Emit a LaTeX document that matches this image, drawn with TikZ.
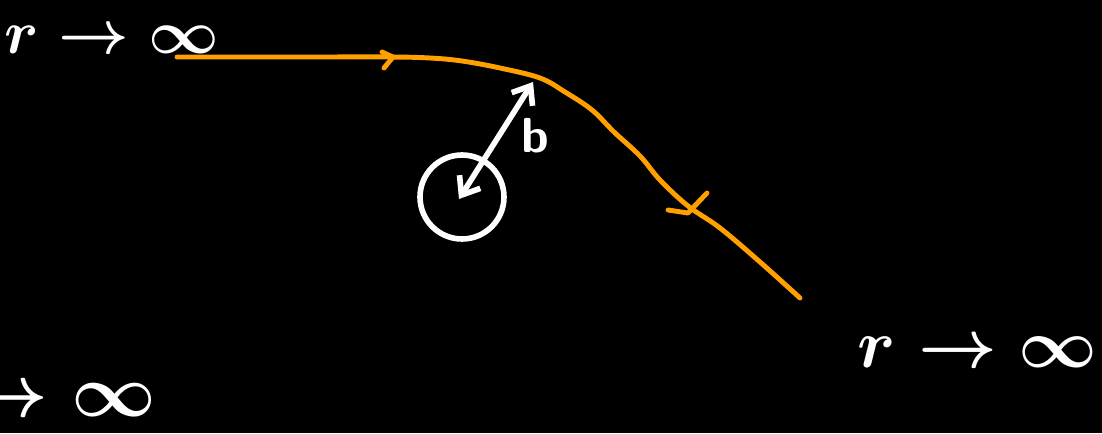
\documentclass[tikz,border=0pt]{standalone}
\usetikzlibrary{arrows.meta}
\definecolor{traj}{RGB}{255,160,0}
\begin{document}
\begin{tikzpicture}[x=0.02cm,y=-0.02cm,
  ink/.style={white,line width=3.2pt,line cap=round,line join=round},
  path/.style={traj,line width=2.8pt,line cap=round,line join=round},
  limit/.style={text=white,font=\boldmath,inner sep=0pt,scale=#1}]
\fill[black] (0,0) rectangle (1102,433);
\useasboundingbox (0,0) rectangle (1102,433);
\clip (0,0) rectangle (1102,433);
% trajectory
\draw[path] plot[smooth,tension=0.6] coordinates {(177,57) (300,57) (390,57) (430,58) (462,61) (500,68) (540,78) (565,92) (592,110) (614,132) (640,156) (660,180) (688,206) (720,228) (760,262) (800,298)};
\coordinate (a1) at (393,57);
\draw[path] (382,52) -- (a1) -- (384,68);
\coordinate (a2) at (688,213);
\draw[path] (668,210) -- (a2) -- (707,193);
% scatterer
\node[ink,draw,circle,minimum size=1.68cm,inner sep=0pt] (s) at (462,197) {};
\coordinate (c) at (459,199);
\coordinate (p) at (533,82);
\draw[ink,{Straight Barb[length=9pt,width=14pt]}-{Straight Barb[length=9pt,width=14pt]}] (c) -- (p);
\node[text=white,font=\sffamily\bfseries,scale=2.8] (b) at (535,136) {b};
% limits
\node[limit=3.5] (l1) at (112,40) {$r\to\infty$};
\node[limit=3.9,anchor=east] (l2) at (1099,352) {$r\to\infty$};
\node[limit=4.2,anchor=east] (l3) at (158,400) {$r\to\infty$};
\end{tikzpicture}
\end{document}
